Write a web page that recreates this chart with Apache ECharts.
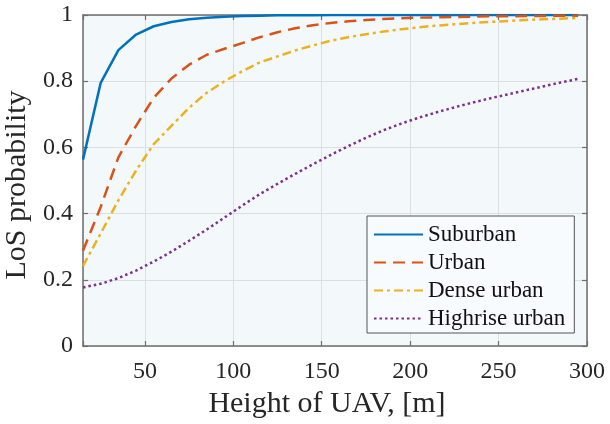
<!DOCTYPE html>
<html>
<head>
<meta charset="utf-8">
<script src="https://cdn.jsdelivr.net/npm/echarts@6/dist/echarts.min.js"></script>
<style>html,body{margin:0;padding:0;background:#fff}#c{width:610px;height:424px}</style>
</head>
<body>
<div id="c"></div>
<script>
const heights = [15,25,35,45,55,65,75,85,95,105,115,125,135,145,155,165,175,185,195,205,215,225,235,245,255,265,275,285,295];
const suburban = [0.563,0.795,0.894,0.941,0.966,0.979,0.987,0.992,0.995,0.997,0.998,0.999,0.9993,0.9996,0.9998,0.9999,1,1,1,1,1,1,1,1,1,1,1,1,1];
const urban = [0.288,0.42,0.57,0.665,0.75,0.808,0.85,0.88,0.898,0.915,0.933,0.948,0.960,0.969,0.976,0.981,0.985,0.988,0.990,0.992,0.993,0.994,0.995,0.996,0.996,0.997,0.997,0.998,0.998];
const denseUrban = [0.242,0.34,0.44,0.53,0.61,0.665,0.72,0.765,0.80,0.83,0.857,0.875,0.893,0.908,0.922,0.933,0.942,0.95,0.957,0.963,0.968,0.972,0.976,0.979,0.982,0.985,0.987,0.989,0.991];
const highriseUrban = [0.177,0.188,0.205,0.228,0.255,0.285,0.318,0.352,0.388,0.424,0.459,0.49,0.52,0.549,0.577,0.604,0.629,0.652,0.672,0.69,0.706,0.721,0.735,0.748,0.760,0.772,0.784,0.796,0.807];
const seriesNames = ['Suburban','Urban','Dense urban','Highrise urban'];
const xTicks = [50,100,150,200,250,300];

const font = 'Liberation Serif';
const axisCol = '#6e6e6e';
function pairs(ys){ return heights.map((h,i)=>[h, ys[i]]); }

const chart = echarts.init(document.getElementById('c'), null, {renderer:'canvas'});
const baseX = {
  type:'value', min:15, max:300, splitNumber:5,
  axisLine:{show:true, onZero:false, lineStyle:{color:axisCol, width:1.5}},
  axisTick:{show:true, inside:true, length:5, lineStyle:{color:axisCol, width:1.2}},
};
const baseY = {
  type:'value', min:0, max:1, interval:0.2,
  axisLine:{show:true, onZero:false, lineStyle:{color:axisCol, width:1.5}},
  axisTick:{show:true, inside:true, length:5, lineStyle:{color:axisCol, width:1.2}},
};
chart.setOption({
  animation:false,
  backgroundColor:'#ffffff',
  textStyle:{fontFamily:font},
  grid:{left:83, right:23, top:15, bottom:78, show:true, backgroundColor:'#f3f8fb', borderWidth:0,
    containLabel:false, outerBoundsMode:'none'},
  legend:{
    orient:'vertical', left:367, top:216,
    padding:[7,9,3,6], itemGap:5, itemWidth:49, itemHeight:14,
    backgroundColor:'#f8fbfd', borderColor:'#555', borderWidth:1,
    itemStyle:{opacity:0},
    textStyle:{fontFamily:font, fontSize:23, color:'#111'},
    data:seriesNames
  },
  xAxis:[
    Object.assign({}, baseX, {
      position:'bottom',
      name:'Height of UAV, [m]', nameLocation:'middle', nameGap:38,
      nameTextStyle:{fontFamily:font, fontSize:30, color:'#262626', padding:[0,16,0,0]},
      axisLabel:{fontFamily:font, fontSize:24, color:'#262626', margin:14,
        formatter:v => xTicks.includes(v) ? String(v) : ''},
      splitLine:{show:true, lineStyle:{color:'#dcdfe2', width:1}}
    }),
    Object.assign({}, baseX, {position:'top', axisLabel:{show:false}, splitLine:{show:false}})
  ],
  yAxis:[
    Object.assign({}, baseY, {
      position:'left',
      name:'LoS probability', nameLocation:'middle', nameGap:45,
      nameTextStyle:{fontFamily:font, fontSize:30, color:'#262626', padding:[0,9,0,0]},
      axisLabel:{fontFamily:font, fontSize:24, color:'#262626', margin:10,
        formatter:v => String(Math.round(v*10)/10)},
      splitLine:{show:true, lineStyle:{color:'#dcdfe2', width:1}}
    }),
    Object.assign({}, baseY, {position:'right', axisLabel:{show:false}, splitLine:{show:false}})
  ],
  series:[
    {name:seriesNames[0], type:'line', data:pairs(suburban), symbol:'none', showSymbol:false,
      lineStyle:{color:'#0072BD', width:2.5, type:'solid'}, itemStyle:{color:'#0072BD'}},
    {name:seriesNames[1], type:'line', data:pairs(urban), symbol:'none', showSymbol:false,
      lineStyle:{color:'#D95319', width:2.5, type:[12,7]}, itemStyle:{color:'#D95319'}},
    {name:seriesNames[2], type:'line', data:pairs(denseUrban), symbol:'none', showSymbol:false,
      lineStyle:{color:'#EDB120', width:2.5, type:[9,4,3,4]}, itemStyle:{color:'#EDB120'}},
    {name:seriesNames[3], type:'line', data:pairs(highriseUrban), symbol:'none', showSymbol:false,
      lineStyle:{color:'#7E2F8E', width:2.5, type:[2.5,3]}, itemStyle:{color:'#7E2F8E'}}
  ]
});
</script>
</body>
</html>
